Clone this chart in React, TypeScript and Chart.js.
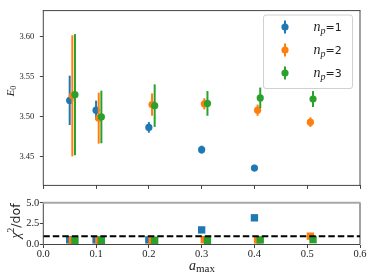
import React, { useEffect, useRef } from "react";
import { Chart, registerables } from "chart.js";

Chart.register(...registerables);

// ---- data ----
const xNp1 = [0.05, 0.1, 0.2, 0.3, 0.4];
const xNp2 = [0.055, 0.105, 0.206, 0.305, 0.406, 0.506];
const xNp3 = [0.06, 0.11, 0.211, 0.311, 0.411, 0.511];

const e0Np1 = [3.5203, 3.508, 3.4864, 3.4585, 3.4354];
const e0Np1Err = [0.031, 0.012, 0.0067, 0.005, 0.004];
const e0Np2 = [3.526, 3.498, 3.515, 3.516, 3.508, 3.493];
const e0Np2Err = [0.076, 0.032, 0.014, 0.007, 0.007, 0.006];
const e0Np3 = [3.5275, 3.4995, 3.5137, 3.5165, 3.5234, 3.522];
const e0Np3Err = [0.076, 0.033, 0.0267, 0.0155, 0.013, 0.010];

const chiNp1 = [0.55, 0.55, 0.55, 1.75, 3.2];
const chiNp2 = [0.5, 0.5, 0.5, 0.58, 0.55, 1.0];
const chiNp3 = [0.5, 0.5, 0.5, 0.5, 0.55, 0.58];

const seriesNames = ["1", "2", "3"];
const seriesColors = ["#1f77b4", "#ff7f0e", "#2ca02c"];

const xTicks = [0, 0.1, 0.2, 0.3, 0.4, 0.5, 0.6];
const e0Ticks = [3.45, 3.5, 3.55, 3.6];
const chiTicks = [0, 2.5, 5];
const chiReference = 1;

const X_MIN = 0;
const X_MAX = 0.6;
const E0_MIN = 3.4136;
const E0_MAX = 3.633;
const CHI_MIN = 0;
const CHI_MAX = 5;

// ---- helpers ----
const SERIF = "'Liberation Serif', serif";
const SANS = "'DejaVu Sans', sans-serif";
const SMALL_TICK_FONT = { family: "Liberation Serif", size: 8.5 };
const BIG_TICK_FONT = { family: "Liberation Serif", size: 10.5 };
const TEXT = "#222";

type Part = { t: string; font: string; dy?: number };

function drawParts(ctx: CanvasRenderingContext2D, parts: Part[], x: number, y: number, align: "left" | "center") {
  ctx.textAlign = "left";
  ctx.textBaseline = "alphabetic";
  let w = 0;
  parts.forEach((p) => {
    ctx.font = p.font;
    w += ctx.measureText(p.t).width;
  });
  let cx = align === "center" ? x - w / 2 : x;
  parts.forEach((p) => {
    ctx.font = p.font;
    ctx.fillText(p.t, cx, y + (p.dy || 0));
    cx += ctx.measureText(p.t).width;
  });
}

const errorBarPlugin = {
  id: "errorBars",
  beforeDatasetDraw(chart: any, args: any) {
    const ds = chart.data.datasets[args.index];
    const errs: number[] | undefined = ds.errors;
    if (!errs) return;
    const { ctx, scales } = chart;
    const xs = scales.x;
    const ys = scales.y;
    ctx.save();
    ctx.strokeStyle = ds.borderColor;
    ctx.lineWidth = 2;
    ds.data.forEach((p: any, i: number) => {
      const e = errs[i];
      if (p.y == null || e == null) return;
      const px = xs.getPixelForValue(p.x);
      ctx.beginPath();
      ctx.moveTo(px, ys.getPixelForValue(p.y - e));
      ctx.lineTo(px, ys.getPixelForValue(p.y + e));
      ctx.stroke();
    });
    ctx.restore();
  },
};

function framePlugin(topColor: string, topWidth: number) {
  return {
    id: "frame",
    afterDatasetsDraw(chart: any) {
      const { ctx, chartArea: a } = chart;
      ctx.save();
      ctx.strokeStyle = "#444";
      ctx.lineWidth = 1;
      ctx.beginPath();
      ctx.moveTo(a.left, a.top);
      ctx.lineTo(a.left, a.bottom);
      ctx.lineTo(a.right, a.bottom);
      ctx.lineTo(a.right, a.top);
      ctx.stroke();
      ctx.strokeStyle = topColor;
      ctx.lineWidth = topWidth;
      ctx.beginPath();
      ctx.moveTo(a.left - 0.5, a.top);
      ctx.lineTo(a.right + 0.5, a.top);
      ctx.stroke();
      ctx.restore();
    },
  };
}

const topDecorPlugin = {
  id: "topDecor",
  afterDraw(chart: any) {
    const { ctx } = chart;
    ctx.save();
    ctx.fillStyle = TEXT;
    // y label E_0
    ctx.translate(13.5, 91);
    ctx.rotate(-Math.PI / 2);
    drawParts(
      ctx,
      [
        { t: "E", font: `italic 11px ${SERIF}` },
        { t: "0", font: `8px ${SERIF}`, dy: 2 },
      ],
      0,
      0,
      "center"
    );
    ctx.restore();

    // legend
    const lx = 263.5, ly = 15, lw = 89, lh = 73.5, r = 2.5;
    ctx.save();
    ctx.beginPath();
    ctx.moveTo(lx + r, ly);
    ctx.lineTo(lx + lw - r, ly);
    ctx.quadraticCurveTo(lx + lw, ly, lx + lw, ly + r);
    ctx.lineTo(lx + lw, ly + lh - r);
    ctx.quadraticCurveTo(lx + lw, ly + lh, lx + lw - r, ly + lh);
    ctx.lineTo(lx + r, ly + lh);
    ctx.quadraticCurveTo(lx, ly + lh, lx, ly + lh - r);
    ctx.lineTo(lx, ly + r);
    ctx.quadraticCurveTo(lx, ly, lx + r, ly);
    ctx.closePath();
    ctx.fillStyle = "rgba(255,255,255,0.8)";
    ctx.fill();
    ctx.strokeStyle = "#d0d0d0";
    ctx.lineWidth = 1;
    ctx.stroke();
    seriesNames.forEach((name, i) => {
      const cy = 27 + i * 23;
      const mx = 285;
      ctx.strokeStyle = seriesColors[i];
      ctx.lineWidth = 2;
      ctx.beginPath();
      ctx.moveTo(mx, cy - 6.5);
      ctx.lineTo(mx, cy + 6.5);
      ctx.stroke();
      ctx.fillStyle = seriesColors[i];
      ctx.beginPath();
      ctx.arc(mx, cy, 3.6, 0, Math.PI * 2);
      ctx.fill();
      ctx.fillStyle = TEXT;
      drawParts(
        ctx,
        [
          { t: "n", font: `italic 14px ${SERIF}` },
          { t: "p", font: `italic 10px ${SERIF}`, dy: 2.5 },
          { t: "=" + name, font: `11px ${SANS}` },
        ],
        313.5,
        cy + 4,
        "left"
      );
    });
    ctx.restore();
  },
};

const bottomDecorPlugin = {
  id: "bottomDecor",
  afterDatasetsDraw(chart: any) {
    const { ctx, chartArea: a, scales } = chart;
    const y = scales.y.getPixelForValue(chiReference);
    ctx.save();
    ctx.beginPath();
    ctx.rect(a.left, a.top - 2, a.right - a.left, a.bottom - a.top + 4);
    ctx.clip();
    ctx.strokeStyle = "#000";
    ctx.lineWidth = 2;
    ctx.setLineDash([6.5, 3]);
    ctx.beginPath();
    ctx.moveTo(a.left, y);
    ctx.lineTo(a.right, y);
    ctx.stroke();
    ctx.restore();
  },
  afterDraw(chart: any) {
    const { ctx } = chart;
    ctx.save();
    ctx.fillStyle = TEXT;
    // x label a_max
    drawParts(
      ctx,
      [
        { t: "a", font: `italic 14px ${SERIF}` },
        { t: "max", font: `11px ${SERIF}`, dy: 2.5 },
      ],
      202,
      269.5 - 196,
      "center"
    );
    // y label chi^2/dof
    ctx.translate(19.5, 221 - 196);
    ctx.rotate(-Math.PI / 2);
    drawParts(
      ctx,
      [
        { t: "χ", font: `italic 14px ${SERIF}` },
        { t: "2", font: `9.5px ${SERIF}`, dy: -6 },
        { t: "/dof", font: `12.5px ${SANS}` },
      ],
      0,
      0,
      "center"
    );
    ctx.restore();
  },
};

function pts(xs: number[], ys: number[]) {
  return xs.map((x, i) => ({ x, y: ys[i] }));
}

function xScale(showLabels: boolean, height: number) {
  return {
    type: "linear" as const,
    min: X_MIN,
    max: X_MAX,
    afterBuildTicks: (s: any) => {
      s.ticks = xTicks.map((v) => ({ value: v }));
    },
    afterFit: (s: any) => {
      s.height = height;
    },
    ticks: {
      display: true,
      autoSkip: false,
      maxRotation: 0,
      padding: 0,
      color: showLabels ? TEXT : "rgba(0,0,0,0)",
      font: BIG_TICK_FONT,
      callback: (v: any) => (showLabels ? Number(v).toFixed(1) : ""),
    },
    grid: { display: true, drawOnChartArea: false, drawTicks: true, tickLength: 3.5, color: "#444", lineWidth: 1 },
    border: { display: false },
  };
}

function yScale(min: number, max: number, ticks: number[], digits: number, font: any, padding: number) {
  return {
    type: "linear" as const,
    min,
    max,
    afterBuildTicks: (s: any) => {
      s.ticks = ticks.map((v) => ({ value: v }));
    },
    afterFit: (s: any) => {
      s.width = 43.3;
    },
    ticks: {
      autoSkip: false,
      padding,
      color: TEXT,
      font,
      callback: (v: any) => Number(v).toFixed(digits),
    },
    grid: { display: true, drawOnChartArea: false, drawTicks: true, tickLength: 3.5, color: "#444", lineWidth: 1 },
    border: { display: false },
  };
}

export default function App() {
  const topRef = useRef<HTMLCanvasElement | null>(null);
  const botRef = useRef<HTMLCanvasElement | null>(null);

  useEffect(() => {
    if (!topRef.current || !botRef.current) return;
    const e0Series = [
      [xNp1, e0Np1, e0Np1Err],
      [xNp2, e0Np2, e0Np2Err],
      [xNp3, e0Np3, e0Np3Err],
    ] as const;
    const top = new Chart(topRef.current, {
      type: "scatter",
      data: {
        datasets: e0Series.map(([xs, ys, errs], i) => ({
          label: "n_p=" + seriesNames[i],
          data: pts(xs as number[], ys as number[]),
          errors: errs,
          order: 3 - i,
          borderColor: seriesColors[i],
          backgroundColor: seriesColors[i],
          pointStyle: "circle",
          pointRadius: 3.6,
          pointBorderWidth: 0,
          showLine: false,
        })) as any,
      },
      options: {
        responsive: false,
        animation: false,
        devicePixelRatio: 1,
        layout: { padding: { top: 6, right: 14, left: 0, bottom: 0 } },
        plugins: { legend: { display: false }, tooltip: { enabled: false }, title: { display: false } },
        scales: {
          x: xScale(false, 9),
          y: yScale(E0_MIN, E0_MAX, e0Ticks, 2, SMALL_TICK_FONT, 5.5),
        },
      } as any,
      plugins: [errorBarPlugin, framePlugin("#444", 1), topDecorPlugin],
    });

    const chiSeries = [
      [xNp1, chiNp1],
      [xNp2, chiNp2],
      [xNp3, chiNp3],
    ] as const;
    const bot = new Chart(botRef.current, {
      type: "scatter",
      data: {
        datasets: chiSeries.map(([xs, ys], i) => ({
          label: "n_p=" + seriesNames[i],
          data: pts(xs as number[], ys as number[]),
          order: 3 - i,
          borderColor: seriesColors[i],
          backgroundColor: seriesColors[i],
          pointStyle: "rect",
          pointRadius: 5.2,
          pointBorderWidth: 0,
          showLine: false,
          clip: false,
        })) as any,
      },
      options: {
        responsive: false,
        animation: false,
        devicePixelRatio: 1,
        layout: { padding: { top: 4, right: 14, left: 0, bottom: 0 } },
        plugins: { legend: { display: false }, tooltip: { enabled: false }, title: { display: false } },
        scales: {
          x: xScale(true, 35.5),
          y: yScale(CHI_MIN, CHI_MAX, chiTicks, 1, BIG_TICK_FONT, 0.5),
        },
      } as any,
      plugins: [framePlugin("#a8a8a8", 2), bottomDecorPlugin],
    });

    return () => {
      top.destroy();
      bot.destroy();
    };
  }, []);

  return (
    <div style={{ position: "fixed", left: 0, top: 0, width: 374, height: 280, background: "#fff" }}>
      <canvas ref={topRef} width={374} height={196} style={{ position: "absolute", left: 0, top: 0, display: "block" }} />
      <canvas ref={botRef} width={374} height={84} style={{ position: "absolute", left: 0, top: 196, display: "block" }} />
    </div>
  );
}
